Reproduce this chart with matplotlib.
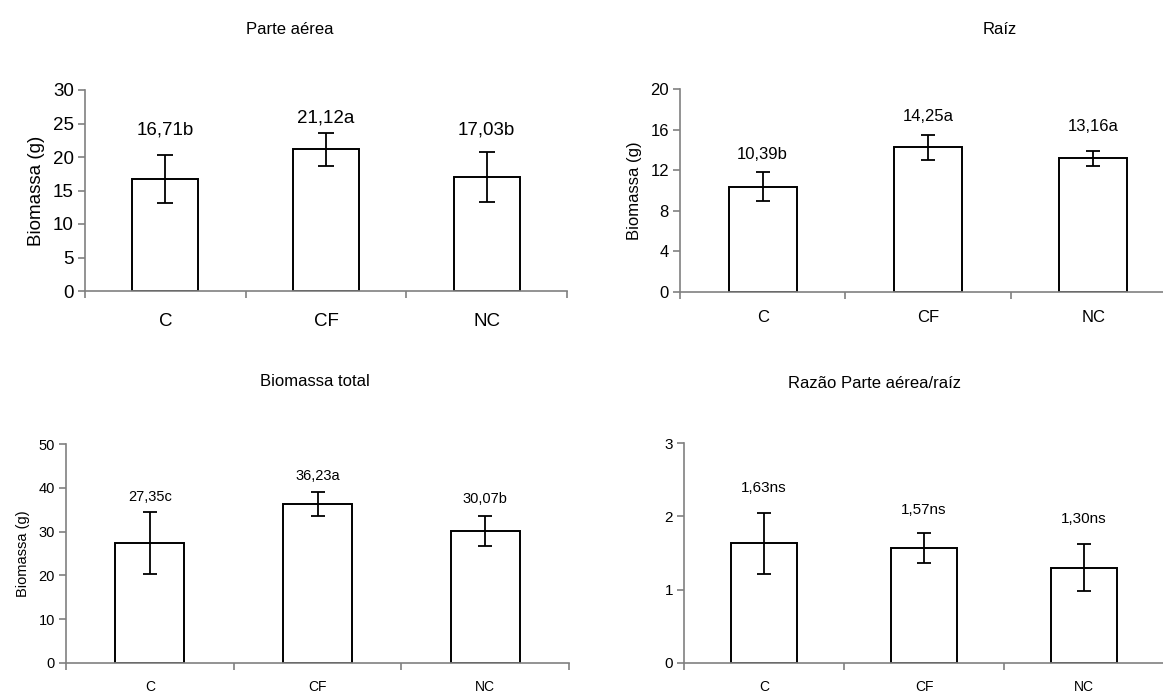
import matplotlib
matplotlib.use('Agg')
import matplotlib.pyplot as plt
import numpy as np

plt.rcParams['font.family'] = ['Liberation Sans', 'DejaVu Sans']

categories = ['C', 'CF', 'NC']

# Parte aérea
shoot_mean = [16.71, 21.12, 17.03]
shoot_err = [3.6, 2.5, 3.7]
shoot_labels = ['16,71b', '21,12a', '17,03b']

# Raíz
root_mean = [10.39, 14.25, 13.16]
root_err = [1.45, 1.2, 0.7]
root_labels = ['10,39b', '14,25a', '13,16a']

# Biomassa total
total_mean = [27.35, 36.23, 30.07]
total_err = [7.1, 2.7, 3.4]
total_labels = ['27,35c', '36,23a', '30,07b']

# Razão parte aérea/raíz
ratio_mean = [1.63, 1.57, 1.30]
ratio_err = [0.41, 0.2, 0.32]
ratio_labels = ['1,63ns', '1,57ns', '1,30ns']

W, H = 1163, 693
fig = plt.figure(figsize=(W / 100, H / 100), dpi=100)
fig.patch.set_facecolor('white')


def px_axes(left, right, y0, ytop):
    """Axes placed by pixel edges (y measured from the top)."""
    return fig.add_axes([left / W, (H - y0) / H, (right - left) / W, (y0 - ytop) / H])


def bar_panel(ax, means, errs, labels, label_y, ymax, ystep, fs, xfs,
              capsize, ylabel=None, labelpad=8, xpad=10):
    x = np.arange(len(categories))
    ax.bar(x, means, width=0.41, color='white', edgecolor='black',
           linewidth=1.4, zorder=2)
    ax.errorbar(x, means, yerr=errs, fmt='none', ecolor='black',
                elinewidth=1.3, capsize=capsize, capthick=1.3, zorder=3)
    for xi, txt, ly in zip(x, labels, label_y):
        ax.text(xi, ly, txt, ha='center', va='center', fontsize=fs, zorder=1)

    ax.set_xlim(-0.5, len(categories) - 0.5)
    ax.set_ylim(0, ymax)
    ax.set_yticks(np.arange(0, ymax + ystep / 2, ystep))
    ax.set_xticks(x)
    ax.set_xticklabels(categories, fontsize=xfs)
    ax.set_xticks(np.arange(-0.5, len(categories)), minor=True)
    ax.tick_params(axis='x', which='major', length=0, pad=xpad)
    ax.tick_params(axis='x', which='minor', length=5, color='#808080',
                   direction='out', width=1.2)
    ax.tick_params(axis='y', length=5, color='#808080', width=1.2,
                   labelsize=fs, pad=3)

    for side in ['top', 'right']:
        ax.spines[side].set_visible(False)
    for side in ['left', 'bottom']:
        ax.spines[side].set_color('#808080')
        ax.spines[side].set_linewidth(1.2)
    ax.spines['left'].set_zorder(4)
    ax.spines['bottom'].set_zorder(4)

    if ylabel:
        ax.set_ylabel(ylabel, fontsize=fs, labelpad=labelpad)


ax1 = px_axes(85, 567, 291, 90)
bar_panel(ax1, shoot_mean, shoot_err, shoot_labels, [24.0, 25.8, 24.0],
          30, 5, 13.5, 13.5, 6, ylabel='Biomassa (g)', labelpad=6, xpad=16)

ax2 = px_axes(680, 1176, 292, 89)
bar_panel(ax2, root_mean, root_err, root_labels, [13.5, 17.3, 16.3],
          20, 4, 12, 12, 5, ylabel='Biomassa (g)', labelpad=6, xpad=13)

ax3 = px_axes(66, 569, 663, 444)
bar_panel(ax3, total_mean, total_err, total_labels, [37.9, 42.7, 37.4],
          50, 10, 10.5, 10, 5, ylabel='Biomassa (g)', labelpad=6, xpad=12)

ax4 = px_axes(684, 1164, 663, 443)
bar_panel(ax4, ratio_mean, ratio_err, ratio_labels, [2.39, 2.09, 1.96],
          3, 1, 11, 10, 5, xpad=12)

# Panel titles
fig.text(290 / W, 1 - 30 / H, 'Parte aérea', ha='center', va='center', fontsize=12)
fig.text(1000 / W, 1 - 29 / H, 'Raíz', ha='center', va='center', fontsize=12)
fig.text(315 / W, 1 - 381 / H, 'Biomassa total', ha='center', va='center', fontsize=12)
fig.text(875 / W, 1 - 384 / H, 'Razão Parte aérea/raíz', ha='center', va='center', fontsize=12)

fig.savefig('out.png', dpi=100, facecolor='white')
